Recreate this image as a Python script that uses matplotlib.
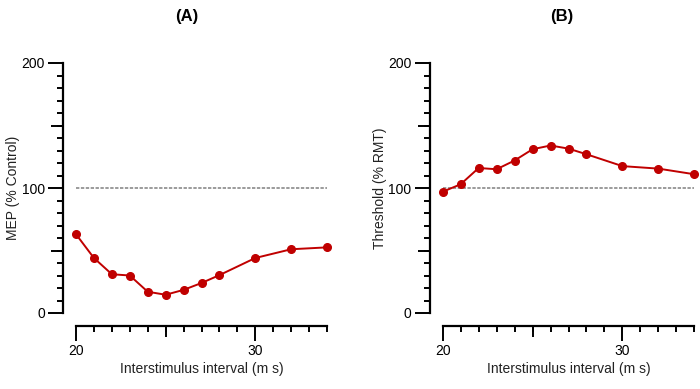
import matplotlib
matplotlib.use("Agg")
import matplotlib.pyplot as plt
from matplotlib.ticker import MultipleLocator
from matplotlib.markers import TICKLEFT, TICKDOWN
from matplotlib.transforms import ScaledTranslation

plt.rcParams["font.family"] = ["Liberation Sans", "DejaVu Sans"]

# ==== data ====
isi = [20, 21, 22, 23, 24, 25, 26, 27, 28, 30, 32, 34]
mep = [63, 44, 31, 30, 17, 14.6, 18.5, 24, 30.3, 44, 51, 52.5]
threshold = [97, 103, 116, 115, 122, 131, 134, 131.5, 127, 117.5, 115.5, 111]
panel_titles = ["(A)", "(B)"]
ylabels = ["MEP (% Control)", "Threshold (% RMT)"]
xlabel = "Interstimulus interval (m s)"
red = "#c00000"

fig = plt.figure(figsize=(7, 3.89), dpi=100)
ax_a = fig.add_axes([76 / 700, 76 / 389, 251 / 700, 250 / 389])
ax_b = fig.add_axes([442.7 / 700, 76 / 389, 251.6 / 700, 250 / 389])

LEFT_OFF = 9.5   # pt
BOTTOM_OFF = 9   # pt


def style_axis(ax, values, ylab):
    ax.plot([20, 34], [100, 100], color="#808080", lw=1.1, dashes=(2.2, 1.0))
    ax.plot(isi, values, color=red, lw=1.4, marker="o", ms=5.5,
            markeredgecolor=red, clip_on=False, zorder=3)
    ax.set_xlim(20, 34)
    ax.set_ylim(0, 200)
    for s in ("top", "right"):
        ax.spines[s].set_visible(False)
    ax.spines["left"].set_position(("outward", LEFT_OFF))
    ax.spines["bottom"].set_position(("outward", BOTTOM_OFF))
    ax.spines["left"].set_linewidth(1.6)
    ax.spines["bottom"].set_linewidth(1.6)
    ax.set_xticks([20, 30])
    ax.set_xticks(range(20, 35), minor=True)
    ax.set_yticks([0, 100, 200])
    ax.yaxis.set_minor_locator(MultipleLocator(10))
    ax.tick_params(which="major", length=11, width=1.4, labelsize=10, pad=2)
    ax.tick_params(which="minor", length=4.3, width=1.4)
    ax.set_ylabel(ylab, fontsize=10, color="#222222", labelpad=1)
    ax.set_xlabel(xlabel, fontsize=10, color="#222222", labelpad=3)

    # medium ticks at 50 / 150 and at 25 ms
    ytrans = ax.get_yaxis_transform() + ScaledTranslation(-LEFT_OFF / 72, 0, fig.dpi_scale_trans)
    for v in (50, 150):
        ax.plot([0], [v], marker=TICKLEFT, ms=8.5, mew=1.4, color="black",
                transform=ytrans, clip_on=False)
    xtrans = ax.get_xaxis_transform() + ScaledTranslation(0, -BOTTOM_OFF / 72, fig.dpi_scale_trans)
    ax.plot([25], [0], marker=TICKDOWN, ms=8, mew=1.4, color="black",
            transform=xtrans, clip_on=False)


style_axis(ax_a, mep, ylabels[0])
style_axis(ax_b, threshold, ylabels[1])

fig.text(187 / 700, 1 - 17 / 389, panel_titles[0], ha="center", va="center",
         fontsize=12, fontweight="bold")
fig.text(562 / 700, 1 - 17 / 389, panel_titles[1], ha="center", va="center",
         fontsize=12, fontweight="bold")

fig.savefig("out.png", dpi=100)
